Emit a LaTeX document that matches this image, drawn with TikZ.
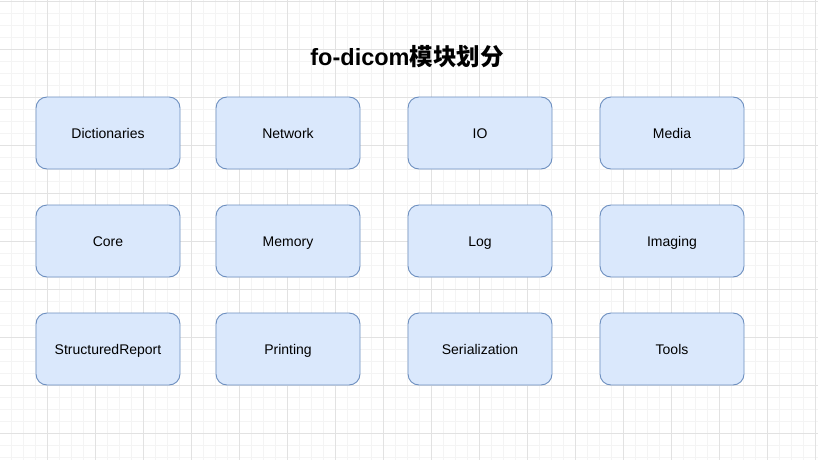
\documentclass[tikz,border=0pt]{standalone}
\usepackage{fontspec}
\setmainfont{Liberation Sans}
\newfontfamily\cjk{Noto Sans CJK SC}
\definecolor{boxfill}{HTML}{DAE8FC}
\definecolor{boxline}{HTML}{6C8EBF}
\definecolor{gridmajor}{HTML}{E2E2E2}
\definecolor{gridminor}{HTML}{F4F4F4}
\begin{document}
\begin{tikzpicture}[x=1pt,y=-1pt,line join=round]
                \tikzset{module/.style={draw=boxline,fill=boxfill,rounded corners=11pt,minimum width=144pt,minimum height=72pt,inner sep=0pt,text height=11pt,text depth=0pt,font=\fontsize{14}{16}\selectfont,line width=0.9pt}}
                \def \w{818}
                \def \h{460}
                \useasboundingbox (0,0) rectangle (\w,\h);
                \fill[white] (0,0) rectangle (\w,\h);
                % grid
                \foreach \i in {0,...,68} \draw[gridminor,line width=0.8pt] ({\i*12-0.3},0)--({\i*12-0.3},\h);
                \foreach \i in {0,...,38} \draw[gridminor,line width=0.8pt] (0,{\i*12+1.3})--(\w,{\i*12+1.3});
                \foreach \i in {0,...,17} \draw[gridmajor,line width=0.8pt] ({\i*48-0.3},0)--({\i*48-0.3},\h);
                \foreach \i in {0,...,9} \draw[gridmajor,line width=0.8pt] (0,{\i*48+1.3})--(\w,{\i*48+1.3});
                \node[font=\fontsize{23.5}{28}\selectfont\bfseries] (title) at (407,57) {fo-dicom{\cjk\bfseries 模块划分}};
                % modules
                \node[module] (dict) at (108,133) {Dictionaries};
                \node[module] (net) at (288,133) {Network};
                \node[module] (io) at (480,133) {IO};
                \node[module] (media) at (672,133) {Media};
                \node[module] (core) at (108,241) {Core};
                \node[module] (mem) at (288,241) {Memory};
                \node[module] (log) at (480,241) {Log};
                \node[module] (img) at (672,241) {Imaging};
                \node[module] (sr) at (108,349) {StructuredReport};
                \node[module] (print) at (288,349) {Printing};
                \node[module] (ser) at (480,349) {Serialization};
                \node[module] (tools) at (672,349) {Tools};
            \end{tikzpicture}
\end{document}
